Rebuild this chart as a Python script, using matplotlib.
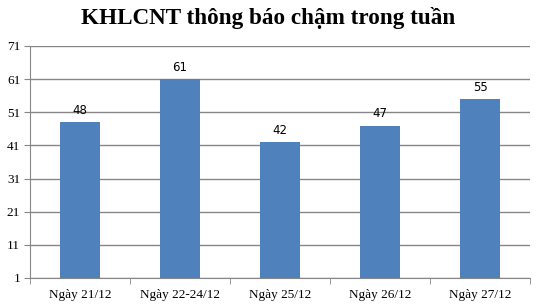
import matplotlib

matplotlib.use("Agg")
import matplotlib.pyplot as plt
import numpy as np

CATEGORIES = ["Ngày 21/12", "Ngày 22-24/12", "Ngày 25/12", "Ngày 26/12", "Ngày 27/12"]
VALUES = [48, 61, 42, 47, 55]
Y_TICKS = [1, 11, 21, 31, 41, 51, 61, 71]
TITLE = "KHLCNT thông báo chậm trong tuần"

BAR_COLOR = "#4F81BD"
GRID_COLOR = "#868686"


def main() -> None:
    fig = plt.figure(figsize=(5.37, 3.07), dpi=100)
    ax = fig.add_axes([30 / 537, 29 / 307, 500 / 537, 232 / 307])

    x = np.arange(len(CATEGORIES))
    ax.bar(x, [v - Y_TICKS[0] for v in VALUES], bottom=Y_TICKS[0], width=0.4,
           color=BAR_COLOR, zorder=3)

    for xi, v in zip(x, VALUES):
        ax.text(xi, v + 1.6, str(v), ha="center", va="bottom", fontsize=8.5,
                family="DejaVu Sans", color="black")

    ax.set_xlim(-0.5, len(CATEGORIES) - 0.5)
    ax.set_ylim(Y_TICKS[0], Y_TICKS[-1])
    ax.set_yticks(Y_TICKS)
    ax.set_yticklabels([str(t) for t in Y_TICKS], family="Liberation Serif", fontsize=9.5)
    ax.yaxis.grid(True, color=GRID_COLOR, linewidth=1.0, zorder=0)

    ax.set_xticks(x)
    ax.set_xticklabels(CATEGORIES, family="Liberation Serif", fontsize=9.5)
    ax.tick_params(axis="x", length=0, pad=8)
    ax.set_xticks(np.arange(len(CATEGORIES) + 1) - 0.5, minor=True)
    ax.tick_params(axis="x", which="minor", length=4, color=GRID_COLOR)
    ax.tick_params(axis="y", length=4, color=GRID_COLOR, pad=3)

    for side in ["top", "right"]:
        ax.spines[side].set_visible(False)
    ax.spines["left"].set_color(GRID_COLOR)
    ax.spines["bottom"].set_color(GRID_COLOR)

    fig.text(0.5, 0.94, TITLE, ha="center", va="center", fontsize=16.7,
             family="Liberation Serif", fontweight="bold")

    fig.savefig("out.png", dpi=100)
    plt.close(fig)


if __name__ == "__main__":
    main()
